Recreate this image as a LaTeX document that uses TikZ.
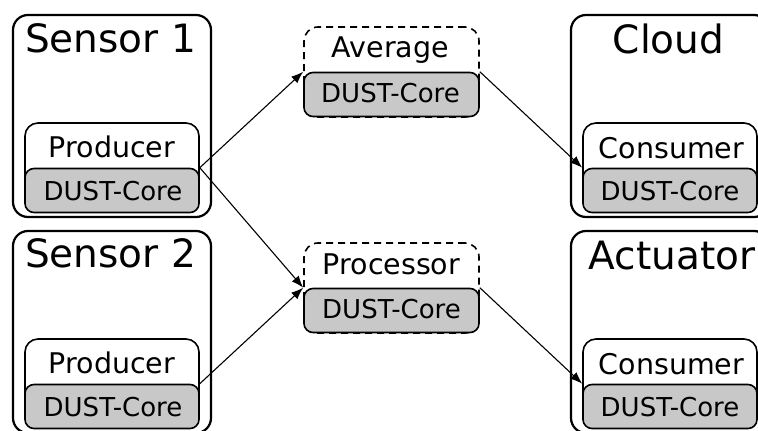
\documentclass[tikz,border=0pt]{standalone}
\usepackage{fontspec}
\setmainfont{DejaVu Sans}
\usetikzlibrary{arrows.meta}
\definecolor{coregrey}{RGB}{200,200,200}
\tikzset{
 outerbox/.style={draw, line width=2.2pt, rounded corners=15pt, minimum width=198pt, minimum height=202pt, inner sep=0pt},
 rolebox/.style={draw, line width=1.6pt, fill=white, rounded corners=13pt, minimum width=174pt, minimum height=89pt, inner sep=0pt},
 opbox/.style={draw, line width=1.6pt, dash pattern=on 7pt off 5pt, rounded corners=14pt, minimum width=175pt, minimum height=90pt, inner sep=0pt},
 corebox/.style={draw, line width=1.6pt, fill=coregrey, rounded corners=9pt, minimum width=174pt, minimum height=44pt, inner sep=0pt},
 title/.style={anchor=base, font=\fontsize{39}{44}\selectfont, inner sep=0pt},
 lbl/.style={anchor=base, font=\fontsize{28.5}{32}\selectfont, inner sep=0pt},
 corelbl/.style={anchor=base, font=\fontsize{26}{30}\selectfont, inner sep=0pt},
 flow/.style={line width=1.1pt, -{Latex[length=12pt,width=9pt]}},
}
\begin{document}
\begin{tikzpicture}[x=1pt,y=-1pt]
\clip (0,0) rectangle (758,431);
% Sensor 1
\node[outerbox] (s1) at (112,116) {};
\node[title] (s1t) at (110.5,52) {Sensor 1};
\node[rolebox] (p1) at (112,167.5) {};
\node[lbl] (p1t) at (112,157) {Producer};
\node[corebox] (d1) at (112,190.5) {};
\node[corelbl] (d1t) at (113,200) {DUST-Core};
% Sensor 2
\node[outerbox] (s2) at (112,332) {};
\node[title] (s2t) at (110.5,267) {Sensor 2};
\node[rolebox] (p2) at (112,383.5) {};
\node[lbl] (p2t) at (112,373) {Producer};
\node[corebox] (d2) at (112,406.5) {};
\node[corelbl] (d2t) at (113,416) {DUST-Core};
% Average
\node[opbox] (a) at (391.5,72) {};
\node[lbl] (at) at (390.5,57) {Average};
\node[corebox, minimum width=175pt] (da) at (391.5,94.5) {};
\node[corelbl] (dat) at (390.5,102) {DUST-Core};
% Processor
\node[opbox] (pr) at (391.5,288) {};
\node[lbl] (prt) at (391.5,274) {Processor};
\node[corebox, minimum width=175pt] (dp) at (391.5,310.5) {};
\node[corelbl] (dpt) at (391.5,318) {DUST-Core};
% Cloud
\node[outerbox] (c) at (670,116) {};
\node[title] (ct) at (668.5,53) {Cloud};
\node[rolebox] (cc) at (670,167.5) {};
\node[lbl] (cct) at (671.5,158) {Consumer};
\node[corebox] (dc) at (670,190.5) {};
\node[corelbl] (dct) at (670,200) {DUST-Core};
% Actuator
\node[outerbox] (ac) at (670,332) {};
\node[title] (act) at (672,269) {Actuator};
\node[rolebox] (acc) at (670,383.5) {};
\node[lbl] (acct) at (671.5,374) {Consumer};
\node[corebox] (dac) at (670,406.5) {};
\node[corelbl] (dact) at (670,416) {DUST-Core};
% flows
\draw[flow] (d1.north east) -- (da.north west);
\draw[flow] (d1.north east) -- (dp.north west);
\draw[flow] (d2.north east) -- (dp.north west);
\draw[flow] (da.north east) -- (dc.north west);
\draw[flow] (dp.north east) -- (dac.north west);
\end{tikzpicture}
\end{document}
